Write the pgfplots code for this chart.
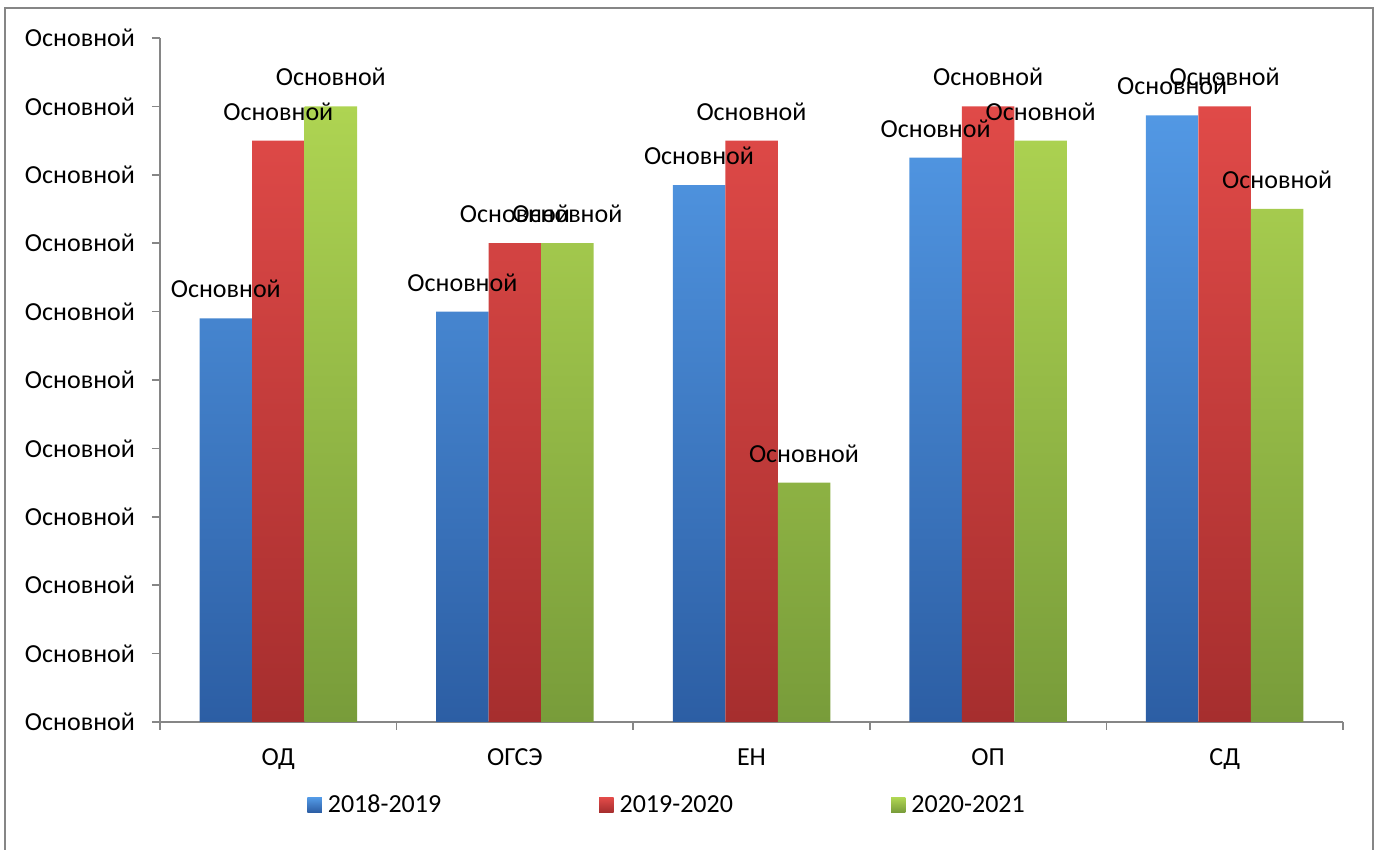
\documentclass[border=0pt]{standalone}
\usepackage{fontspec}
\setmainfont{Carlito}
\usepackage{pgfplots}
\pgfplotsset{compat=1.18}

\definecolor{axisgray}{RGB}{134,134,134}
\definecolor{blueTop}{RGB}{82,152,228}
\definecolor{blueBot}{RGB}{44,94,164}
\definecolor{redTop}{RGB}{224,74,72}
\definecolor{redBot}{RGB}{166,46,46}
\definecolor{greenTop}{RGB}{174,212,82}
\definecolor{greenBot}{RGB}{120,156,58}

\pgfplotsset{
  bevelbar/.style 2 args={draw=none, top color=#1, bottom color=#2,
    legend image code/.code={\draw[##1, draw=none] (0pt,-3.6pt) rectangle (7.2pt,3.6pt);}},
}

\begin{document}
\begin{tikzpicture}[font=\fontsize{13pt}{15pt}\selectfont]
\useasboundingbox (-80pt,-64pt) rectangle (610pt,361pt);
% chart frame (left, top, right)
\draw[axisgray, line width=0.8pt] (-77.5pt,-64pt) -- (-77.5pt,357pt) -- (606.5pt,357pt) -- (606.5pt,-64pt);

\begin{axis}[
    at={(0pt,0pt)}, anchor=south west,
    scale only axis,
    width=591.5pt, height=342pt,
    ymin=0, ymax=100,
    ytick={0,10,...,100},
    yticklabel={Основной},
    yticklabel style={xshift=-5pt},
    xmin=-0.5, xmax=4.5,
    xtick={0,1,2,3,4},
    xticklabels={ОД,ОГСЭ,ЕН,ОП,СД},
    xticklabel style={yshift=-6pt},
    minor xtick={-0.5,0.5,1.5,2.5,3.5,4.5},
    major x tick style={draw=none},
    axis x line*=bottom, axis y line*=left,
    axis line style={axisgray, line width=0.75pt, -},
    tick style={axisgray, line width=0.75pt},
    tick align=outside,
    major tick length=4pt, minor tick length=4pt,
    ybar=0pt, bar width=26.25pt,
    nodes near coords={Основной},
    every node near coord/.append style={black, inner sep=0pt, yshift=10pt, anchor=south},
    legend style={at={(axis description cs:0.1243,-0.1215)}, anchor=west,
        draw=none, fill=none, inner sep=0pt, legend columns=3,
        nodes={inner sep=0pt},
        /tikz/every odd column/.append style={column sep=3pt},
        /tikz/every even column/.append style={column sep=79pt}},
    legend cell align=left,
]
\addplot[bevelbar={blueTop}{blueBot}] coordinates {(0,59) (1,60) (2,78.5) (3,82.5) (4,88.7)};
\addlegendentry{2018-2019}
\addplot[bevelbar={redTop}{redBot}] coordinates {(0,85) (1,70) (2,85) (3,90) (4,90)};
\addlegendentry{2019-2020}
\addplot[bevelbar={greenTop}{greenBot}] coordinates {(0,90) (1,70) (2,35) (3,85) (4,75)};
\addlegendentry{2020-2021}
\end{axis}
\end{tikzpicture}
\end{document}
